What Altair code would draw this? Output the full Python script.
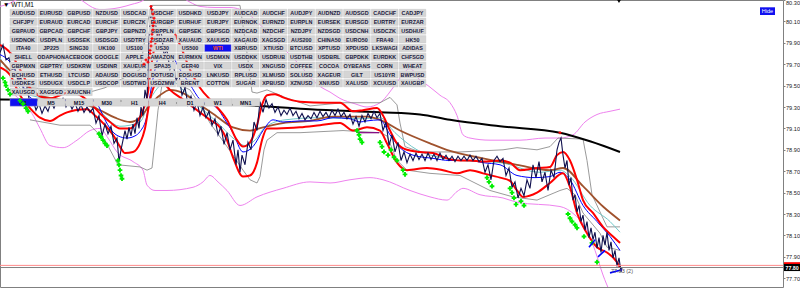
import altair as alt
import pandas as pd

W, H = 783, 287
P_TOP, P_BOT = 80.30, 77.618

# ---------------- data (bar index, price) ----------------
PRICE = [(0,79.81),(3,79.88),(6,79.74),(9,79.76),(12,79.65),(15,79.66),(18,79.55),(21,79.57),(24,79.44),(27,79.48),
(30,79.33),(33,79.37),(36,79.27),(39,79.33),(42,79.24),(45,79.31),(48,79.26),(51,79.35),(54,79.29),(57,79.36),
(60,79.32),(63,79.38),(66,79.30),(69,79.35),(72,79.28),(75,79.34),(78,79.26),(81,79.32),(84,79.25),(87,79.30),
(90,79.25),(93,79.29),(96,79.15),(99,79.22),(102,79.03),(105,79.14),(108,79.05),(111,79.12),(114,78.96),(117,79.01),
(119,78.79),(121,78.90),(123,78.99),(125,79.08),(127,79.00),(129,79.11),(131,79.03),(133,79.14),(135,79.05),(137,79.20),
(139,79.10),(141,79.30),(143,79.22),(145,79.46),(147,79.37),(149,79.93),(151,80.25),(153,80.02),(155,80.11),(158,79.93),
(161,80.02),(164,79.79),(167,79.83),(170,79.65),(173,79.72),(176,79.55),(179,79.60),(182,79.41),(185,79.48),(188,79.32),
(191,79.40),(194,79.27),(197,79.35),(200,79.22),(203,79.30),(206,79.20),(209,79.26),(212,79.13),(215,79.19),(218,79.04),
(221,79.12),(224,78.95),(227,79.06),(230,78.90),(233,78.99),(236,78.76),(238,78.90),(240,78.69),(242,78.85),(245,78.76),
(248,78.97),(251,78.90),(254,79.16),(257,79.08),(260,79.35),(263,79.25),(266,79.37),(269,79.29),(272,79.33),(275,79.25),
(278,79.30),(281,79.22),(284,79.27),(287,79.23),(290,79.29),(293,79.22),(296,79.26),(299,79.19),(302,79.24),(305,79.18),
(308,79.22),(311,79.19),(314,79.25),(317,79.20),(320,79.26),(323,79.21),(326,79.25),(329,79.20),(332,79.27),(335,79.22),
(338,79.28),(341,79.21),(344,79.25),(347,79.19),(350,79.23),(353,79.14),(356,79.21),(359,79.12),(362,79.22),(365,79.16),
(368,79.24),(371,79.19),(374,79.26),(377,79.20),(380,79.24),(383,79.08),(386,79.16),(389,78.94),(392,79.04),(395,78.88),
(398,78.97),(401,78.80),(404,78.88),(407,78.78),(410,78.86),(413,78.80),(416,78.87),(419,78.81),(422,78.86),(425,78.80),
(428,78.87),(431,78.81),(434,78.86),(437,78.80),(440,78.87),(443,78.81),(446,78.85),(449,78.80),(452,78.84),(455,78.79),
(458,78.84),(461,78.80),(464,78.84),(467,78.80),(470,78.85),(473,78.80),(476,78.84),(479,78.79),(482,78.82),(485,78.69),
(488,78.76),(491,78.62),(494,78.80),(497,78.84),(500,78.79),(503,78.82),(506,78.66),(509,78.73),(512,78.55),(515,78.60),
(518,78.45),(521,78.54),(524,78.47),(527,78.62),(530,78.54),(533,78.76),(536,78.64),(539,78.79),(542,78.60),(545,78.69),
(548,78.52),(551,78.71),(554,78.64),(557,78.90),(559,78.97),(561,79.01),(563,78.85),(565,78.73),(567,78.80),(569,78.57),
(571,78.64),(573,78.43),(575,78.48),(577,78.32),(579,78.38),(581,78.23),(583,78.29),(585,78.15),(587,78.23),(589,78.08),
(591,78.17),(593,78.06),(595,78.13),(597,77.98),(599,78.08),(601,77.94),(603,78.10),(605,78.01),(607,78.13),(609,77.96),
(611,78.04),(613,77.89),(615,77.96),(617,77.81),(619,77.89),(621,77.76),(622,77.80)]

RED_UPPER = [(0,79.88),(10,79.81),(20,79.65),(30,79.48),(40,79.40),(50,79.38),(60,79.41),(70,79.44),(80,79.41),(90,79.34),
(100,79.24),(110,79.16),(120,79.10),(130,79.10),(137,79.16),(143,79.27),(148,79.44),(150,79.60),(155,79.88),(160,80.02),
(170,80.04),(180,79.88),(190,79.65),(200,79.48),(213,79.34),(227,79.18),(237,78.99),(243,78.93),(250,78.97),(257,79.13),
(262,79.32),(267,79.41),(275,79.42),(283,79.39),(300,79.35),(327,79.34),(340,79.34),(353,79.26),(363,79.27),(377,79.29),
(383,79.22),(390,79.08),(397,78.96),(407,78.90),(420,78.88),(433,78.87),(447,78.82),(460,78.80),(470,78.80),(483,78.79),
(500,78.80),(510,78.78),(520,78.71),(537,78.73),(550,78.74),(557,78.85),(563,78.88),(570,78.80),(577,78.62),(583,78.43),
(593,78.31),(603,78.18),(613,78.09),(620,78.03)]

RED_LOWER = [(0,79.67),(10,79.60),(20,79.41),(30,79.29),(40,79.20),(50,79.17),(60,79.22),(67,79.25),(75,79.27),(87,79.28),
(95,79.22),(105,79.13),(113,79.04),(120,78.93),(125,78.87),(133,78.88),(140,78.96),(145,79.10),(150,79.37),(155,79.51),
(160,79.55),(165,79.51),(170,79.46),(183,79.37),(200,79.25),(210,79.18),(220,79.11),(227,78.99),(233,78.83),(243,78.65),
(250,78.66),(257,78.78),(262,78.99),(267,79.10),(277,79.10),(300,79.11),(320,79.13),(340,79.15),(353,79.08),(367,79.11),
(380,79.08),(387,78.96),(397,78.78),(407,78.71),(427,78.73),(443,78.71),(457,78.68),(470,78.71),(483,78.68),(500,78.64),
(510,78.61),(517,78.52),(523,78.46),(537,78.50),(550,78.59),(563,78.68),(570,78.55),(577,78.31),(587,78.12),(597,77.99),
(607,77.94),(617,77.85),(620,77.80)]

BLUE_MA = [(0,79.79),(10,79.72),(20,79.55),(30,79.39),(40,79.35),(50,79.33),(60,79.35),(70,79.37),(80,79.37),(90,79.37),
(97,79.33),(105,79.18),(110,79.10),(118,79.03),(127,79.01),(135,79.03),(140,79.07),(147,79.22),(150,79.41),(155,79.65),
(160,79.79),(170,79.79),(180,79.65),(190,79.51),(200,79.37),(217,79.29),(225,79.18),(233,79.06),(243,78.88),(253,78.93),
(263,79.08),(273,79.18),(283,79.16),(300,79.17),(317,79.17),(333,79.20),(350,79.19),(360,79.16),(367,79.17),(380,79.18),
(390,79.04),(400,78.92),(413,78.85),(433,78.82),(450,78.80),(470,78.80),(483,78.78),(500,78.76),(517,78.66),(535,78.64),
(550,78.65),(560,78.69),(570,78.62),(583,78.38),(597,78.23),(610,78.09),(620,77.96)]

BROWN_MA = [(0,79.74),(20,79.55),(40,79.41),(60,79.37),(80,79.34),(100,79.27),(115,79.20),(130,79.16),(140,79.20),(150,79.32),
(160,79.41),(170,79.46),(183,79.43),(200,79.32),(217,79.21),(233,79.11),(250,79.08),(263,79.11),(283,79.15),(310,79.17),
(333,79.21),(367,79.21),(380,79.18),(400,79.08),(430,78.96),(450,78.89),(483,78.82),(517,78.76),(550,78.71),(563,78.73),
(583,78.56),(603,78.37),(620,78.24)]

CYAN_MA = [(0,79.76),(30,79.41),(90,79.33),(120,79.12),(140,79.16),(150,79.37),(170,79.55),(183,79.46),(200,79.30),(217,79.16),
(233,79.01),(245,78.94),(255,78.99),(265,79.11),(285,79.18),(320,79.20),(360,79.19),(380,79.20),(395,79.06),(417,78.90),
(440,78.83),(460,78.80),(500,78.78),(540,78.69),(560,78.71),(570,78.65),(590,78.38),(610,78.23),(620,78.13)]

BLACK_MA = [(0,79.37),(100,79.36),(200,79.33),(260,79.31),(310,79.28),(380,79.25),(420,79.23),(450,79.18),(500,79.12),
(560,79.06),(590,78.98),(620,78.88)]

PINK_UPPER = [(0,80.24),(10,80.27),(20,80.32),(40,80.37),(70,80.35),(100,80.21),(120,80.23),(132,80.26),(142,80.29),(152,80.36),
(170,80.39),(190,80.28),(200,80.24),(215,80.23),(230,80.23),(245,80.19),(260,80.07),(280,79.88),(300,79.69),(315,79.53),
(322,79.48),(330,79.44),(340,79.38),(355,79.33),(367,79.30),(380,79.34),(393,79.48),(400,79.57),(410,79.66),(420,79.55),
(428,79.50),(440,79.41),(450,79.34),(457,79.22),(463,79.04),(470,79.01),(490,78.99),(520,78.99),(545,79.01),(560,79.01),
(573,79.04),(585,79.16),(597,79.23),(610,79.26),(620,79.28)]

PINK_LOWER = [(15,79.41),(25,79.32),(32,79.24),(40,79.10),(50,78.94),(63,78.92),(77,78.99),(90,79.08),(100,79.10),(108,79.01),
(117,78.88),(133,78.79),(143,78.71),(147,78.57),(155,78.52),(167,78.52),(193,78.55),(203,78.60),(210,78.66),(218,78.60),
(227,78.52),(240,78.38),(257,78.46),(283,78.54),(310,78.60),(330,78.59),(350,78.62),(370,78.64),(383,78.62),(410,78.52),
(430,78.46),(447,78.43),(457,78.51),(463,78.54),(480,78.48),(503,78.45),(517,78.41),(560,78.37),(575,78.29),(587,78.15),
(595,77.96),(603,77.73),(610,77.57)]

GRAY_UPPER = [(30,79.48),(90,79.44),(105,79.48),(140,79.65),(148,80.11),(152,80.25),(240,80.25),(248,79.74),(252,79.44),
(257,79.43),(267,79.46),(285,79.39),(310,79.31),(343,79.34),(380,79.34),(390,79.39),(397,79.32),(400,79.15),(405,78.93),
(420,78.88),(460,78.88),(503,78.90),(517,78.92),(537,78.90),(550,78.93),(558,79.01),(583,79.00),(587,78.80),(592,78.48),
(600,78.32),(607,78.18),(620,78.18)]

GRAY_LOWER = [(30,79.18),(60,79.13),(90,79.13),(105,78.99),(118,78.76),(140,78.74),(147,78.71),(152,78.73),(155,78.99),
(158,79.27),(162,79.51),(170,79.55),(190,79.46),(200,79.32),(210,79.15),(227,78.93),(243,78.71),(250,78.62),(257,78.59),
(260,78.65),(264,78.90),(267,78.99),(277,79.06),(300,79.06),(343,79.08),(380,79.06),(387,79.03),(397,78.80),(407,78.71),
(430,78.68),(460,78.66),(490,78.52),(513,78.46),(537,78.43),(560,78.52),(567,78.54),(575,78.48),(583,78.31),(600,78.12),
(607,77.99),(620,77.96)]

GREEN_SIGNALS = [(3,79.57),(5,79.53),(6,79.50),(8,79.46),(10,79.42),(20,79.36),(23,79.33),(26,79.29),(28,79.26),
(99,79.05),(101,79.02),(103,78.99),(105,78.96),(107,78.94),
(118,78.80),(119,78.76),(120,78.71),(121,78.66),(122,78.63),
(357,79.08),(359,79.04),(360,79.00),(362,78.97),
(380,78.97),(382,78.93),(384,78.88),(388,78.85),(391,78.90),(394,78.83),(397,78.80),
(403,78.71),(405,78.67),
(487,78.64),(489,78.60),(492,78.56),
(510,78.54),(512,78.50),(514,78.45),(516,78.39),(521,78.42),(524,78.38),
(568,78.30),(570,78.26),(572,78.23),(575,78.20),(577,78.17),
(584,78.09),(592,78.03),(597,77.85)]

RED_SIGNALS = [(144,79.70),(146,79.74),(148,79.72),(149,79.76),(150,79.80),(150,79.83),(151,79.87),(151,79.91),(152,79.94),
(152,79.98),(153,80.02),(153,80.06),(154,80.09),(154,80.13),(153,80.17),(152,80.21),(151,80.24),(560,79.06)]

BLUE_SEGMENTS = [(589,77.99,595,78.06),(598,77.90,605,77.96),(610,77.75,622,77.78)]
PURPLE_SEGMENT = [(357,79.06,379,79.06)]

BID, ASK = 77.80, 77.82
AXIS_TICKS = [80.30,80.10,79.90,79.70,79.50,79.30,79.10,78.90,78.70,78.50,78.30,78.10,77.90,77.70]

SYMBOL_ROWS = [
 "AUDUSD EURUSD GBPUSD NZDUSD USDCAD USDCHF USDHKD USDJPY AUDCAD AUDCHF AUDJPY AUDNZD AUDSGD CADCHF CADJPY".split(),
 "CHFJPY EURAUD EURCAD EURCHF EURCZK EURGBP EURHUF EURJPY EURNOK EURNZD EURPLN EURSEK EURSGD EURTRY EURZAR".split(),
 "GBPAUD GBPCAD GBPCHF GBPJPY GBPNZD GBPPLN GBPSEK GBPSGD NZDCAD NZDCHF NZDJPY NZDSGD USDCNH USDCZK USDHUF".split(),
 "USDNOK USDPLN USDSEK USDSGD USDTRY USDZAR XAUAUD XAUUSD XAGAUD XAGSGD AUS200 CHINA50 EURO50 FRA40 HK50".split(),
 "ITA40 JP225 SING30 UK100 US100 US30 US500 WTI XBRUSD XTIUSD BTCUSD XPTUSD XPDUSD LKSWAGI ADIDAS".split(),
 "SHELL ODAPHON ACEBOOK GOOGLE APPLE AMAZON EURMXN USDMXN USDDKK USDRUB USDTHB USDBRL GBPDKK EURDKK CHFSGD".split(),
 "GBPMXN GBPTRY USDKRW USDINR XAUEUR SPA35 GER40 VIX USDX XNGUSD COFFEE COCOA OYBEANS CORN WHEAT".split(),
 "BCHUSD ETHUSD LTCUSD ADAUSD DOGUSD DOTUSD EOSUSD LNKUSD RPLUSD XLMUSD SOLUSD XAGEUR GILT US10YR BWPUSD".split(),
 "USDKES USDUGX USDCLP USDCOP USDTWD USDZMW BRENT COTTON SUGAR XPBUSD XZNUSD XNIUSD XALUSD XCUUSD XAUGBP".split(),
 "XAUSGD XAGSGD XAUCNH".split(),
]
TIMEFRAMES = ["M1", "M5", "M15", "M30", "H1", "H4", "D1", "W1", "MN1"]
ACTIVE_SYMBOL, ACTIVE_TF = "WTI", "M1"
CHART_TITLE = "\u25bc WTI,M1"
NOTE_TEXT = "77.83 (2)"

# ---------------- helpers ----------------
xs = alt.Scale(domain=[0, W], nice=False, zero=False)
ys = alt.Scale(domain=[P_BOT, P_TOP], nice=False, zero=False)
ps = alt.Scale(domain=[0, H], range=[0, H], nice=False, zero=False)  # panel pixel scale (top-down)

def df(pts):
    return pd.DataFrame(pts, columns=["x", "p"])

def line(pts, color, width, interp="monotone", axis=None, opacity=1.0):
    return alt.Chart(df(pts)).mark_line(color=color, strokeWidth=width, clip=True,
                                        interpolate=interp, opacity=opacity).encode(
        x=alt.X("x:Q", scale=xs, axis=None),
        y=alt.Y("p:Q", scale=ys, axis=axis),
        order="x:Q")

def segs(rows, color, width):
    d = pd.DataFrame(rows, columns=["x", "p", "x2", "p2"])
    return alt.Chart(d).mark_rule(color=color, strokeWidth=width, clip=True).encode(
        x=alt.X("x:Q", scale=xs, axis=None), x2="x2:Q",
        y=alt.Y("p:Q", scale=ys, axis=None), y2="p2:Q")

def hline(price, color):
    return alt.Chart(pd.DataFrame({"p": [price]})).mark_rule(color=color, strokeWidth=1).encode(
        y=alt.Y("p:Q", scale=ys, axis=None), x=alt.value(0), x2=alt.value(W))

price_axis = alt.Axis(orient="right", values=AXIS_TICKS, format=".2f", title=None, grid=False,
                      domain=False, tickSize=2, tickColor="#808080", labelPadding=0.5,
                      labelFont="Liberation Sans", labelFontSize=5.6, labelColor="#202020",
                      labelAlign="left", labelFlush=True, labelOverlap=False)

# ---------------- panel (buttons) ----------------
GX0, PITCH_X, BW = 10.0, 27.8, 26.6
GY0, PITCH_Y, BH = 9.3, 8.78, 7.3
TF_Y0, TF_H = 98.6, 7.6
btn = []
for r, names in enumerate(SYMBOL_ROWS):
    for c, name in enumerate(names):
        x0 = GX0 + c * PITCH_X
        y0 = GY0 + r * PITCH_Y
        act = name == ACTIVE_SYMBOL
        btn.append(dict(name=name, x0=x0, x1=x0 + BW, y0=y0, y1=y0 + BH, xc=x0 + BW / 2, yc=y0 + BH / 2 + 0.3,
                        fill="#1010f0" if act else "#d5d5d5", tc="#ff5020" if act else "#202040"))
for c, tf in enumerate(TIMEFRAMES):
    x0 = GX0 + c * PITCH_X
    act = tf == ACTIVE_TF
    btn.append(dict(name=tf, x0=x0, x1=x0 + BW + 0.8, y0=TF_Y0, y1=TF_Y0 + TF_H, xc=x0 + BW / 2, yc=TF_Y0 + TF_H / 2 + 0.3,
                    fill="#1010f0" if act else "#d5d5d5", tc="#101030"))
btn = pd.DataFrame(btn)

buttons = alt.Chart(btn).mark_rect(stroke="#c0c0c0", strokeWidth=0.4).encode(
    x=alt.X("x0:Q", scale=xs, axis=None), x2="x1:Q",
    y=alt.Y("y0:Q", scale=ps, axis=None), y2="y1:Q",
    fill=alt.Fill("fill:N", scale=None))
button_text = alt.Chart(btn).mark_text(font="Liberation Sans", fontSize=5.4, fontWeight="bold",
                                       align="center", baseline="middle").encode(
    x=alt.X("xc:Q", scale=xs, axis=None),
    y=alt.Y("yc:Q", scale=ps, axis=None),
    text="name:N", color=alt.Color("tc:N", scale=None))

one = pd.DataFrame({"t": [CHART_TITLE]})
title = alt.Chart(one).mark_text(align="left", baseline="middle", font="Liberation Sans", fontSize=6.5,
                                 color="#000000").encode(x=alt.value(3), y=alt.value(4.5), text="t:N")
hide_btn = alt.Chart(pd.DataFrame({"t": ["Hide"]})).mark_rect(color="#1010f0").encode(
    x=alt.value(760), x2=alt.value(775), y=alt.value(7.3), y2=alt.value(15))
hide_txt = alt.Chart(pd.DataFrame({"t": ["Hide"]})).mark_text(color="white", font="Liberation Sans", fontSize=5.5,
                                                             align="center", baseline="middle").encode(
    x=alt.value(767.5), y=alt.value(11.3), text="t:N")
shift_mark = alt.Chart(one).mark_point(shape="triangle-down", filled=True, color="black", size=14, opacity=1).encode(
    x=alt.value(619), y=alt.value(1.5))

green = alt.Chart(df(GREEN_SIGNALS)).mark_point(shape="cross", filled=True, color="#00ee00", size=22, opacity=1).encode(
    x=alt.X("x:Q", scale=xs, axis=None), y=alt.Y("p:Q", scale=ys, axis=None))
red = alt.Chart(df(RED_SIGNALS)).mark_point(shape="cross", filled=True, color="#ff0000", size=9, opacity=1).encode(
    x=alt.X("x:Q", scale=xs, axis=None), y=alt.Y("p:Q", scale=ys, axis=None))

boxes = pd.DataFrame({"p": [ASK + 0.03, BID + 0.033], "p2": [ASK - 0.01, BID - 0.033],
                      "c": ["#ff0000", "#000000"]})
price_boxes = alt.Chart(boxes).mark_rect().encode(
    x=alt.value(784), x2=alt.value(800),
    y=alt.Y("p:Q", scale=ys, axis=None), y2="p2:Q", fill=alt.Fill("c:N", scale=None))
bid_text = alt.Chart(pd.DataFrame({"p": [BID], "t": [f"{BID:.2f}"]})).mark_text(
    align="left", baseline="middle", color="white", font="Liberation Sans", fontSize=5.3, fontWeight="bold").encode(
    x=alt.value(785.5), y=alt.Y("p:Q", scale=ys, axis=None), text="t:N")
note = alt.Chart(pd.DataFrame({"x": [611], "p": [77.765], "t": [NOTE_TEXT]})).mark_text(
    align="left", baseline="middle", color="#505050", font="Liberation Sans", fontSize=5.5).encode(
    x=alt.X("x:Q", scale=xs, axis=None), y=alt.Y("p:Q", scale=ys, axis=None), text="t:N")

layers = [
    line(PINK_UPPER, "#ee82ee", 1),
    line(PINK_LOWER, "#ee82ee", 1),
    line(GRAY_UPPER, "#808080", 0.8, "linear"),
    line(GRAY_LOWER, "#808080", 0.8, "linear"),
    line(CYAN_MA, "#70c8c8", 1),
    line(BROWN_MA, "#a0522d", 1.8),
    line(BLACK_MA, "#000000", 2),
    line(BLUE_MA, "#0000ff", 1),
    line(RED_UPPER, "#ff0000", 2),
    line(RED_LOWER, "#ff0000", 2),
    line(PRICE, "#10104e", 1.1, "linear", axis=price_axis),
    segs(PURPLE_SEGMENT, "#800080", 1.2),
    hline(ASK, "#ff8a8a"),
    hline(BID, "#808080"),
    buttons, button_text, title, hide_btn, hide_txt,
    green, red, segs(BLUE_SEGMENTS, "#0000ff", 1.6), shift_mark,
    price_boxes, bid_text, note,
]

chart = alt.layer(*layers).resolve_scale(y="independent").properties(
    width=W, height=H, autosize=alt.AutoSizeParams(type="none"),
    padding={"left": 0, "top": 0, "right": 17, "bottom": 5}, background="white"
).configure_view(stroke="#808080", strokeWidth=1)

chart.save("out.html", embed_options={"renderer": "svg", "actions": False})
